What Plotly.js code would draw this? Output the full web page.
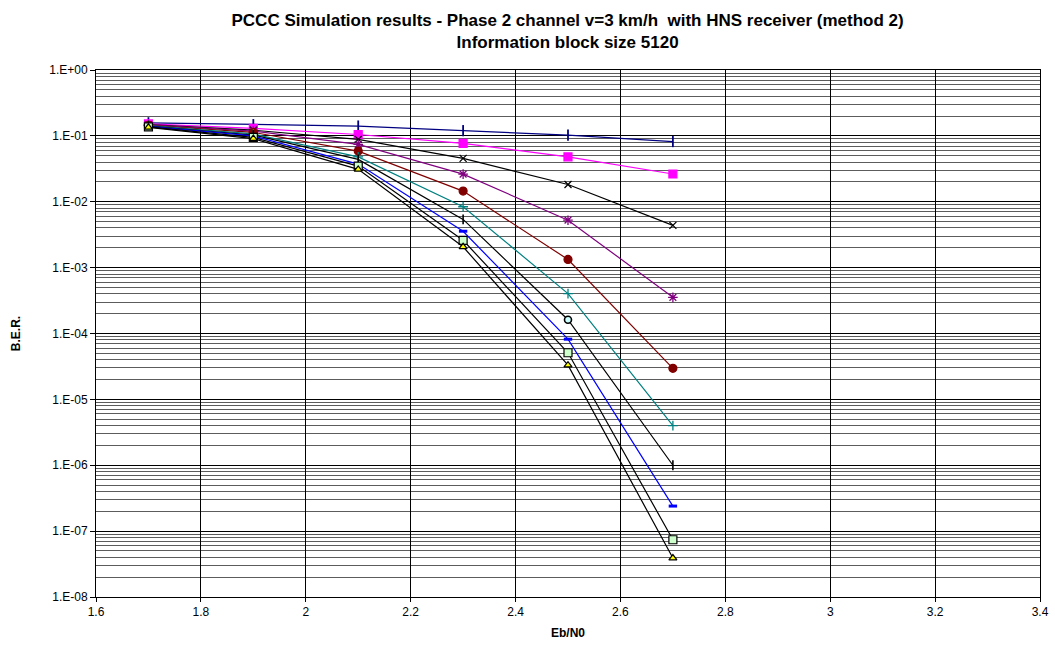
<!DOCTYPE html>
<html>
<head>
<meta charset="utf-8">
<script src="https://cdn.plot.ly/plotly-3.0.1.min.js"></script>
<style>html,body{margin:0;padding:0;background:#fff;}#chart{width:1055px;height:646px;}</style>
</head>
<body>
<div id="chart"></div>
<script>
// Eb/N0 values (x)
const ebn0 = [1.7, 1.9, 2.1, 2.3, 2.5, 2.7];

// B.E.R. per curve
const berNavy    = [0.158, 0.148, 0.141, 0.120, 0.103, 0.082];
const berMagenta = [0.152, 0.130, 0.105, 0.0769, 0.048, 0.0264];
const berBlackX  = [0.148, 0.122, 0.0885, 0.0455, 0.0183, 0.00438];
const berPurple  = [0.147, 0.118, 0.0743, 0.0263, 0.00525, 0.000354];
const berDarkRed = [0.145, 0.113, 0.0588, 0.0145, 0.00133, 0.0000296];
const berTeal    = [0.143, 0.107, 0.048, 0.0084, 0.000404, 0.00000399];
const berBlackI  = [0.141, 0.103, 0.044, 0.0054, 0.000162, 0.000001];
const berBlue    = [0.139, 0.100, 0.0373, 0.00357, 0.000082, 0.00000024];
const berGreen   = [0.137, 0.095, 0.0348, 0.0026, 0.000051, 0.000000074];
const berYellow  = [0.135, 0.091, 0.031, 0.00207, 0.000033, 0.000000039];

// y tick labels
const yTickVals = [1, 1e-1, 1e-2, 1e-3, 1e-4, 1e-5, 1e-6, 1e-7, 1e-8];
const yTickText = ["1.E+00", "1.E-01", "1.E-02", "1.E-03", "1.E-04", "1.E-05", "1.E-06", "1.E-07", "1.E-08"];

function tr(y, lineColor, symbol, mColor, mLine, size, lw) {
  return {
    x: ebn0, y: y, type: 'scatter', mode: 'lines+markers',
    line: {color: lineColor, width: 1.2},
    marker: {symbol: symbol, color: mColor, size: size || 7,
             line: {color: mLine, width: lw || 1.2}},
    showlegend: false, hoverinfo: 'x+y'
  };
}

const blackISymbols = ['line-ns-open','line-ns-open','line-ns-open','line-ns-open','circle','line-ns-open'];
const blackIColors  = ['#000','#000','#000','#000','#CCFFFF','#000'];

const data = [
  tr(berNavy, '#000080', 'line-ns-open', '#000080', '#000080', 8, 1.8),
  tr(berMagenta, '#FF00FF', 'square', '#FF00FF', '#FF00FF', 8),
  tr(berBlackX, '#000000', 'x-thin-open', '#000000', '#000000', 7, 1.3),
  tr(berPurple, '#800080', 'asterisk-open', '#800080', '#800080', 8, 1.3),
  tr(berDarkRed, '#800000', 'circle', '#800000', '#800000', 8),
  tr(berTeal, '#008080', 'cross-thin-open', '#008080', '#008080', 7, 1.3),
  tr(berBlackI, '#000000', blackISymbols, blackIColors, '#000000', 7, 1.6),
  tr(berBlue, '#0000FF', 'line-ew-open', '#0000FF', '#0000FF', 6, 3),
  tr(berGreen, '#000000', 'square', '#CCFFCC', '#000000', 8),
  tr(berYellow, '#000000', 'triangle-up', '#FFFF00', '#000000', 7)
];

const layout = {
  width: 1055, height: 646,
  paper_bgcolor: '#fff', plot_bgcolor: '#fff',
  margin: {l: 96, r: 15, t: 70, b: 49},
  font: {family: 'Liberation Sans, Arial, sans-serif', size: 12, color: '#000'},
  title: {
    text: '<b>PCCC Simulation results - Phase 2 channel v=3 km/h  with HNS receiver (method 2)</b><br><b>Information block size 5120</b>',
    font: {family: 'Liberation Sans, Arial, sans-serif', size: 17, color: '#000'},
    x: 0.538, xanchor: 'center', yref: 'container', y: 0.96, yanchor: 'middle'
  },
  xaxis: {
    range: [1.6, 3.4], dtick: 0.2, tick0: 1.6,
    showgrid: true, gridcolor: '#000', gridwidth: 1,
    showline: true, linecolor: '#000', linewidth: 1, mirror: true,
    ticks: 'outside', ticklen: 4, tickcolor: '#000',
    zeroline: false,
    tickfont: {size: 12},
    title: {text: '<b>Eb/N0</b>', font: {size: 12}, standoff: 10}
  },
  yaxis: {
    type: 'log', range: [-8, 0],
    tickmode: 'array', tickvals: yTickVals, ticktext: yTickText,
    showgrid: true, gridcolor: '#000', gridwidth: 1,
    minor: {dtick: 'D1', showgrid: true, gridcolor: '#333', gridwidth: 0.8, ticks: ''},
    showline: true, linecolor: '#000', linewidth: 1, mirror: true,
    ticks: 'outside', ticklen: 5, tickcolor: '#000',
    zeroline: false,
    tickfont: {size: 12},
    title: {text: '<b>B.E.R.</b>', font: {size: 12}, standoff: 26}
  }
};

Plotly.newPlot('chart', data, layout, {displayModeBar: false, staticPlot: true});
</script>
</body>
</html>
